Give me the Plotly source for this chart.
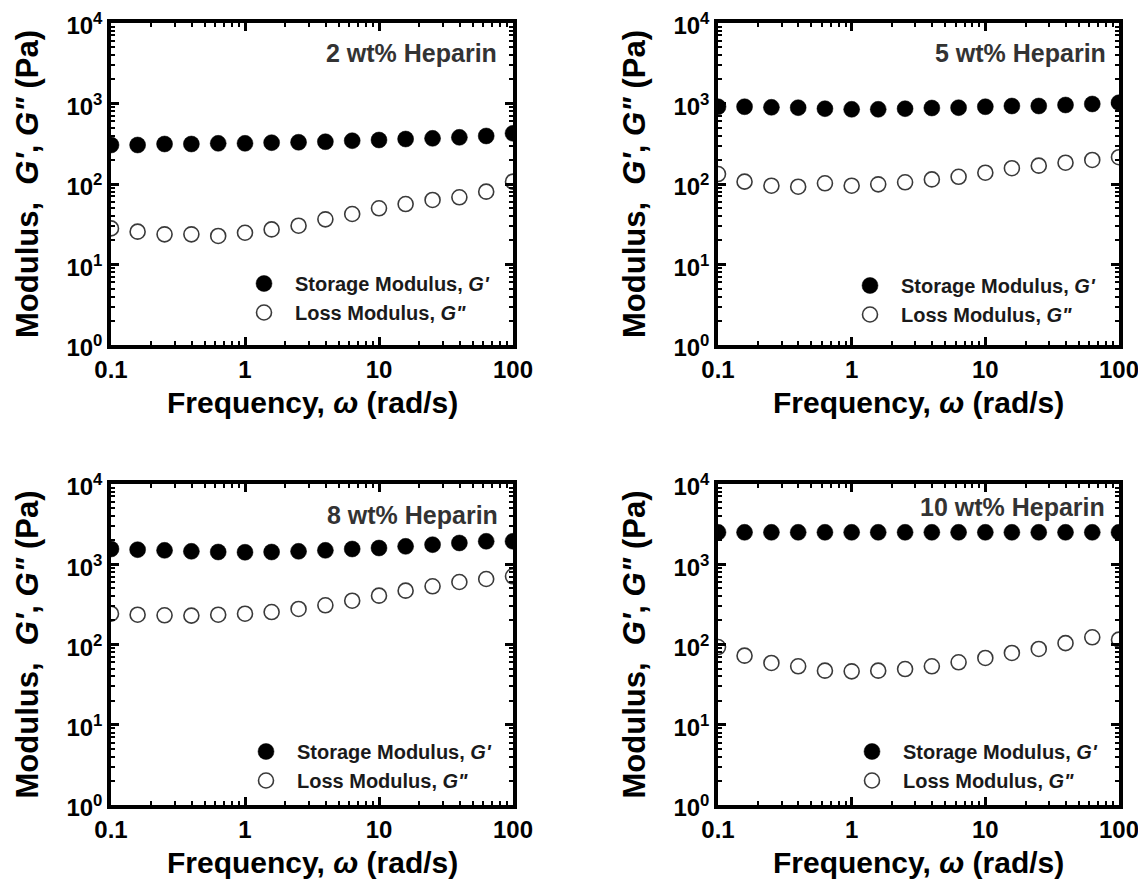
import plotly.graph_objects as go

# ---------------- data ----------------
freq = [0.1, 0.158, 0.251, 0.398, 0.631, 1.0, 1.58, 2.51, 3.98, 6.31,
        10.0, 15.8, 25.1, 39.8, 63.1, 100.0]

panel_labels = ["2 wt% Heparin", "5 wt% Heparin", "8 wt% Heparin", "10 wt% Heparin"]

g_storage_2 = [305, 305, 314, 314, 320, 320, 326, 330, 335, 345, 352, 362, 369, 380, 395, 426]
g_loss_2 = [28.1, 25.6, 23.7, 23.7, 22.6, 24.8, 27.3, 30.3, 36.4, 42.4, 49.9, 56.4, 63.3, 68.4, 80.3, 107]

g_storage_5 = [912, 912, 897, 887, 862, 847, 847, 862, 879, 887, 912, 931, 931, 958, 986, 1023]
g_loss_5 = [133, 107, 95.3, 92.6, 102, 95.3, 99, 105, 114, 123, 138, 157, 169, 184, 199, 215]

g_storage_8 = [1549, 1518, 1490, 1449, 1421, 1410, 1421, 1449, 1490, 1549, 1593, 1671, 1753, 1841, 1932, 1932]
g_loss_8 = [242, 235, 231, 229, 235, 242, 254, 277, 308, 351, 406, 469, 531, 601, 655, 708]

g_storage_10 = [2500, 2500, 2500, 2500, 2500, 2500, 2500, 2500, 2500, 2500, 2500, 2500, 2500, 2500, 2500, 2500]
g_loss_10 = [93, 72.6, 58.9, 53.5, 47.2, 46.3, 47.2, 49.5, 53.5, 60, 68, 78.4, 88, 104, 123, 115]

storage_sets = [g_storage_2, g_storage_5, g_storage_8, g_storage_10]
loss_sets = [g_loss_2, g_loss_5, g_loss_8, g_loss_10]

x_tickvals = [0.1, 1, 10, 100]
x_ticktext = ["0.1", "1", "10", "100"]
y_tickvals = [1, 10, 100, 1000, 10000]
y_ticktext = ["10<sup>0</sup>", "10<sup>1</sup>", "10<sup>2</sup>", "10<sup>3</sup>", "10<sup>4</sup>"]

x_title = "Frequency, <i>ω</i> (rad/s)"
y_title = "Modulus,  <i>G'</i>, <i>G\"</i> (Pa)"
storage_name = "Storage Modulus, <i>G'</i>"
loss_name = "Loss Modulus, <i>G\"</i>"

# ---------------- layout geometry (pixels, in the 1146x886 page) ----------------
OFF = 8                     # default page margin around the figure
W, H = 1146 - OFF, 886 - OFF
FONT = "Liberation Sans, Arial, Helvetica, sans-serif"

# plot areas: (left, right, top, bottom) in page pixels
areas = [(111, 513, 23, 345), (718, 1119, 23, 345),
         (111, 513, 484, 805), (718, 1119, 484, 805)]
label_pos = [(499, 53), (1108, 53), (500, 515), (1107, 507)]
legend_pos = [(233, 264), (839, 266), (235, 732), (841, 732)]


def px_x(p):
    return (p - OFF) / W


def px_y(p):
    return 1 - (p - OFF) / H


fig = go.Figure()

for i in range(4):
    xa = "x" if i == 0 else f"x{i + 1}"
    ya = "y" if i == 0 else f"y{i + 1}"
    lg = "legend" if i == 0 else f"legend{i + 1}"
    fig.add_trace(go.Scatter(
        x=freq, y=storage_sets[i], mode="markers", name=storage_name,
        xaxis=xa, yaxis=ya, legend=lg,
        marker=dict(symbol="circle", size=16, color="black",
                    line=dict(width=0.5, color="black")),
    ))
    fig.add_trace(go.Scatter(
        x=freq, y=loss_sets[i], mode="markers", name=loss_name,
        xaxis=xa, yaxis=ya, legend=lg,
        marker=dict(symbol="circle", size=15, color="white",
                    line=dict(width=1.6, color="#3a3a3a")),
    ))

axis_common = dict(
    type="log", showgrid=False, zeroline=False, automargin=False,
    showline=True, linewidth=3.5, linecolor="black", mirror="allticks",
    ticks="inside", ticklen=8, tickwidth=2.5, tickcolor="black",
    ticklabeloverflow="allow",
    minor=dict(ticks="inside", ticklen=4, tickwidth=2, tickcolor="black", dtick="D1", showgrid=False),
    tickfont=dict(family=FONT, size=24, color="black", weight="bold"),
)

layout = dict(
    template="none",
    width=W, height=H, margin=dict(l=0, r=0, t=0, b=0, autoexpand=False),
    paper_bgcolor="white", plot_bgcolor="white",
    font=dict(family=FONT, color="black"),
)

annotations = []
for i, (l, r, t, b) in enumerate(areas):
    sfx = "" if i == 0 else str(i + 1)
    layout[f"xaxis{sfx}"] = dict(
        axis_common, domain=[px_x(l), px_x(r)], range=[-1, 2],
        tickvals=x_tickvals, ticktext=x_ticktext,
        anchor=f"y{sfx}",
    )
    layout[f"yaxis{sfx}"] = dict(
        axis_common, domain=[px_y(b), px_y(t)], range=[0, 4],
        tickvals=y_tickvals, ticktext=y_ticktext, ticklabelshift=3,
        anchor=f"x{sfx}",
    )
    # x title
    annotations.append(dict(
        text=x_title, xref="paper", yref="paper",
        x=px_x((l + r) / 2), y=px_y(b + 57), xanchor="center", yanchor="middle",
        showarrow=False, font=dict(family=FONT, size=30, color="black", weight="bold"),
    ))
    # y title
    annotations.append(dict(
        text=y_title, xref="paper", yref="paper", textangle=-90,
        x=px_x(l - 84), y=px_y((t + b) / 2), xanchor="center", yanchor="middle",
        showarrow=False, font=dict(family=FONT, size=31, color="black", weight="bold"),
    ))
    # panel label
    lx, ly = label_pos[i]
    annotations.append(dict(
        text=panel_labels[i], xref="paper", yref="paper",
        x=px_x(lx), y=px_y(ly), xanchor="right", yanchor="middle",
        showarrow=False, font=dict(family=FONT, size=25, color="#333333", weight="bold"),
    ))
    # legend
    gx, gy = legend_pos[i]
    lname = "legend" if i == 0 else f"legend{i + 1}"
    layout[lname] = dict(
        x=px_x(gx), y=px_y(gy), xanchor="left", yanchor="top",
        xref="paper", yref="paper",
        bgcolor="rgba(0,0,0,0)", borderwidth=0,
        itemwidth=52, itemsizing="trace", tracegroupgap=0,
        font=dict(family=FONT, size=20, color="#1a1a1a", weight="bold"),
    )

layout["annotations"] = annotations
layout["showlegend"] = True
fig.update_layout(**layout)

fig.write_html("out.html")
